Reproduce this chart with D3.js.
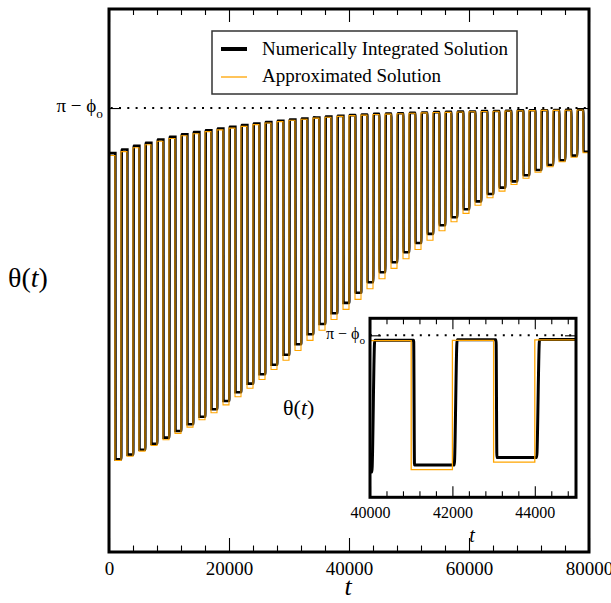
<!DOCTYPE html>
<html>
<head>
<meta charset="utf-8">
<script src="https://cdn.jsdelivr.net/npm/d3@7"></script>
<style>
  html, body { margin: 0; padding: 0; background: #fff; }
  svg { display: block; }
</style>
</head>
<body>
<svg id="chart" width="611" height="603"></svg>
<script>
// ---- data -------------------------------------------------------------
// Square-wave response: each cycle of PERIOD has a "high" half then a "low" half.
const PERIOD = 2000;
const T_END = 80000;
const PHI0 = 0.607;
const THETA_TOP = Math.PI - PHI0;   // the pi - phi_o level

// plateau levels per cycle (40 cycles), numerically integrated solution
const numericHigh = [2.277, 2.298, 2.319, 2.336, 2.355, 2.370, 2.385, 2.397, 2.408, 2.418,
                     2.427, 2.437, 2.446, 2.454, 2.462, 2.469, 2.475, 2.481, 2.486, 2.490,
                     2.494, 2.498, 2.501, 2.503, 2.505, 2.507, 2.509, 2.511, 2.513, 2.514,
                     2.515, 2.517, 2.518, 2.519, 2.521, 2.522, 2.522, 2.523, 2.524, 2.525];
const numericLow  = [0.529, 0.556, 0.584, 0.618, 0.653, 0.691, 0.729, 0.772, 0.815, 0.862,
                     0.912, 0.961, 1.015, 1.069, 1.126, 1.186, 1.243, 1.302, 1.363, 1.422,
                     1.480, 1.540, 1.597, 1.654, 1.711, 1.764, 1.816, 1.865, 1.911, 1.957,
                     2.002, 2.044, 2.080, 2.116, 2.151, 2.181, 2.209, 2.236, 2.263, 2.285];
// plateau levels per cycle, approximated solution
const approxHigh  = [2.264, 2.286, 2.308, 2.325, 2.345, 2.361, 2.376, 2.388, 2.400, 2.410,
                     2.420, 2.430, 2.440, 2.449, 2.457, 2.465, 2.471, 2.477, 2.482, 2.487,
                     2.491, 2.494, 2.498, 2.500, 2.502, 2.505, 2.507, 2.509, 2.510, 2.512,
                     2.513, 2.515, 2.516, 2.518, 2.519, 2.520, 2.521, 2.521, 2.522, 2.523];
const approxLow   = [0.522, 0.547, 0.576, 0.608, 0.641, 0.677, 0.713, 0.755, 0.795, 0.840,
                     0.886, 0.935, 0.985, 1.042, 1.095, 1.150, 1.208, 1.266, 1.327, 1.385,
                     1.442, 1.503, 1.560, 1.619, 1.674, 1.727, 1.780, 1.834, 1.885, 1.933,
                     1.980, 2.022, 2.060, 2.098, 2.134, 2.168, 2.199, 2.228, 2.254, 2.279];

// the numerical solution switches a little later than the approximation, and not instantly
const FALL_LAG = 60, FALL_RAMP = 20, RISE_LAG = 45, RISE_RAMP = 70;

const mainTicksMajor = [0, 20000, 40000, 60000, 80000];
const insetTicksMajor = [40000, 42000, 44000];
const INSET_RANGE = [40000, 45000];

const SERIF = '"Liberation Serif", "Times New Roman", Times, serif';
const ORANGE = "#ffa500";

// ---- series as point lists ---------------------------------------------
function approxPoints() {
  const pts = [];
  approxHigh.forEach((h, k) => {
    pts.push([k * PERIOD, h]);
    pts.push([k * PERIOD + PERIOD / 2, approxLow[k]]);
  });
  pts.push([T_END, approxLow[approxLow.length - 1]]);
  return pts;
}
function numericPoints() {
  const pts = [[0, numericHigh[0]]];
  numericHigh.forEach((h, k) => {
    const tf = k * PERIOD + PERIOD / 2 + FALL_LAG;
    pts.push([tf, h], [tf + FALL_RAMP, numericLow[k]]);
    if (k + 1 < numericHigh.length) {
      const tr = (k + 1) * PERIOD + RISE_LAG;
      pts.push([tr, numericLow[k]], [tr + RISE_RAMP, numericHigh[k + 1]]);
    }
  });
  pts.push([T_END, numericLow[numericLow.length - 1]]);
  return pts;
}
const approxData = approxPoints();
const numericData = numericPoints();

// ---- main panel --------------------------------------------------------
const svg = d3.select("#chart");
const M = { left: 109, right: 589, top: 9, bottom: 552 };
const x = d3.scaleLinear().domain([0, T_END]).range([M.left, M.right]);
const y = d3.scaleLinear().domain([0, 3.1]).range([M.bottom, M.top]);

const defs = svg.append("defs");
defs.append("clipPath").attr("id", "clipMain").append("rect")
  .attr("x", M.left).attr("y", M.top).attr("width", M.right - M.left).attr("height", M.bottom - M.top);

const mainG = svg.append("g").attr("clip-path", "url(#clipMain)");

// pi - phi_o reference level
mainG.append("line")
  .attr("x1", M.left).attr("x2", M.right)
  .attr("y1", y(THETA_TOP)).attr("y2", y(THETA_TOP))
  .attr("stroke", "#000").attr("stroke-width", 2)
  .attr("stroke-dasharray", "2 6.3").attr("stroke-dashoffset", -1.7);

const lineNum = d3.line().x(d => x(d[0])).y(d => y(d[1])).curve(d3.curveMonotoneX);
const lineApp = d3.line().x(d => x(d[0])).y(d => y(d[1])).curve(d3.curveStepAfter);

mainG.append("path").attr("d", lineNum(numericData))
  .attr("fill", "none").attr("stroke", "#000").attr("stroke-width", 2.6);
mainG.append("path").attr("d", lineApp(approxData))
  .attr("fill", "none").attr("stroke", ORANGE).attr("stroke-width", 1.1);

// axes with inward ticks
function styleAxis(g, size) {
  g.select(".domain").remove();
  g.attr("font-family", SERIF).attr("font-size", size);
  g.selectAll("text").attr("fill", "#000");
  g.selectAll("line").attr("stroke", "#000").attr("stroke-width", 1.1);
}
const mainMinor = d3.range(0, T_END + 1, 4000).filter(v => v % 20000 !== 0);

svg.append("g").attr("transform", `translate(0,${M.bottom})`)
  .call(d3.axisBottom(x).tickValues(mainTicksMajor).tickSize(-14).tickPadding(9.5).tickFormat(d3.format("d")))
  .call(g => styleAxis(g, 19));
svg.append("g").attr("transform", `translate(0,${M.bottom})`)
  .call(d3.axisBottom(x).tickValues(mainMinor).tickSize(-6.5).tickFormat(""))
  .call(g => styleAxis(g, 19));
svg.append("g").attr("transform", `translate(0,${M.top})`)
  .call(d3.axisTop(x).tickValues(mainTicksMajor).tickSize(-13).tickFormat(""))
  .call(g => styleAxis(g, 19));
svg.append("g").attr("transform", `translate(0,${M.top})`)
  .call(d3.axisTop(x).tickValues(mainMinor).tickSize(-6).tickFormat(""))
  .call(g => styleAxis(g, 19));
svg.append("g").attr("transform", `translate(${M.left},0)`)
  .call(d3.axisLeft(y).tickValues([THETA_TOP]).tickSize(-12).tickFormat(""))
  .call(g => styleAxis(g, 19));
svg.append("g").attr("transform", `translate(${M.right},0)`)
  .call(d3.axisRight(y).tickValues([THETA_TOP]).tickSize(-12).tickFormat(""))
  .call(g => styleAxis(g, 19));

// frame
svg.append("rect")
  .attr("x", M.left).attr("y", M.top).attr("width", M.right - M.left).attr("height", M.bottom - M.top)
  .attr("fill", "none").attr("stroke", "#000").attr("stroke-width", 3);

// pi - phi_o label
function piPhiLabel(xEnd, yBase, size) {
  const t = svg.append("text")
    .attr("x", xEnd).attr("y", yBase).attr("text-anchor", "end")
    .attr("font-family", SERIF).attr("font-size", size).attr("fill", "#000");
  t.append("tspan").text("\u03C0 \u2212 \u03D5");
  t.append("tspan").attr("font-size", size * 0.7).attr("dy", size * 0.3).text("o");
}
piPhiLabel(103, 112, 19);

// axis titles
function thetaLabel(xs, yBase, size) {
  const t = svg.append("text")
    .attr("x", xs).attr("y", yBase)
    .attr("font-family", SERIF).attr("font-size", size).attr("fill", "#000");
  t.append("tspan").text("\u03B8(");
  t.append("tspan").attr("font-style", "italic").text("t");
  t.append("tspan").text(")");
}
thetaLabel(8, 287, 28);
svg.append("text").attr("x", 348).attr("y", 595).attr("text-anchor", "middle")
  .attr("font-family", SERIF).attr("font-size", 26).attr("font-style", "italic").text("t");

// ---- legend -------------------------------------------------------------
const leg = svg.append("g");
leg.append("rect").attr("x", 212).attr("y", 31).attr("width", 305).attr("height", 63)
  .attr("fill", "#fff").attr("stroke", "#333").attr("stroke-width", 1.5);
const legendItems = [
  { label: "Numerically Integrated Solution", color: "#000", width: 4, yy: 49, base: 54.5 },
  { label: "Approximated Solution", color: ORANGE, width: 1.3, yy: 77, base: 82 }
];
legendItems.forEach(it => {
  leg.append("line").attr("x1", 221).attr("x2", 247).attr("y1", it.yy).attr("y2", it.yy)
    .attr("stroke", it.color).attr("stroke-width", it.width);
  leg.append("text").attr("x", 262).attr("y", it.base)
    .attr("font-family", SERIF).attr("font-size", 19).attr("fill", "#000").text(it.label);
});

// ---- inset: zoom on a few cycles ------------------------------------------
const I = { left: 370, right: 576, top: 318.3, bottom: 497.3 };
const xi = d3.scaleLinear().domain(INSET_RANGE).range([I.left, I.right]);
const yi = d3.scaleLinear().domain([1.217, 2.673]).range([I.bottom, I.top]);

svg.append("rect").attr("x", I.left).attr("y", I.top)
  .attr("width", I.right - I.left).attr("height", I.bottom - I.top).attr("fill", "#fff");

defs.append("clipPath").attr("id", "clipInset").append("rect")
  .attr("x", I.left).attr("y", I.top).attr("width", I.right - I.left).attr("height", I.bottom - I.top);
const insetG = svg.append("g").attr("clip-path", "url(#clipInset)");

insetG.append("line")
  .attr("x1", I.left).attr("x2", I.right)
  .attr("y1", yi(THETA_TOP)).attr("y2", yi(THETA_TOP))
  .attr("stroke", "#000").attr("stroke-width", 2)
  .attr("stroke-dasharray", "2 6.3");

const inNum = d3.line().x(d => xi(d[0])).y(d => yi(d[1])).curve(d3.curveMonotoneX);
const inApp = d3.line().x(d => xi(d[0])).y(d => yi(d[1])).curve(d3.curveStepAfter);
const inWindow = d => d[0] >= INSET_RANGE[0] - PERIOD && d[0] <= INSET_RANGE[1] + PERIOD;
insetG.append("path").attr("d", inNum(numericData.filter(inWindow)))
  .attr("fill", "none").attr("stroke", "#000").attr("stroke-width", 3);
insetG.append("path").attr("d", inApp(approxData.filter(inWindow)))
  .attr("fill", "none").attr("stroke", ORANGE).attr("stroke-width", 1.3);

const insetMinor = d3.range(INSET_RANGE[0], INSET_RANGE[1] + 1, 400).filter(v => !insetTicksMajor.includes(v));
svg.append("g").attr("transform", `translate(0,${I.bottom})`)
  .call(d3.axisBottom(xi).tickValues(insetTicksMajor).tickSize(-11).tickPadding(9.3).tickFormat(d3.format("d")))
  .call(g => styleAxis(g, 16));
svg.append("g").attr("transform", `translate(0,${I.bottom})`)
  .call(d3.axisBottom(xi).tickValues(insetMinor).tickSize(-6).tickFormat(""))
  .call(g => styleAxis(g, 16));
svg.append("g").attr("transform", `translate(0,${I.top})`)
  .call(d3.axisTop(xi).tickValues(insetTicksMajor).tickSize(-11).tickFormat(""))
  .call(g => styleAxis(g, 16));
svg.append("g").attr("transform", `translate(0,${I.top})`)
  .call(d3.axisTop(xi).tickValues(insetMinor).tickSize(-6).tickFormat(""))
  .call(g => styleAxis(g, 16));
svg.append("g").attr("transform", `translate(${I.left},0)`)
  .call(d3.axisLeft(yi).tickValues([THETA_TOP]).tickSize(-11).tickFormat(""))
  .call(g => styleAxis(g, 16));
svg.append("g").attr("transform", `translate(${I.right},0)`)
  .call(d3.axisRight(yi).tickValues([THETA_TOP]).tickSize(-11).tickFormat(""))
  .call(g => styleAxis(g, 16));

svg.append("rect").attr("x", I.left).attr("y", I.top)
  .attr("width", I.right - I.left).attr("height", I.bottom - I.top)
  .attr("fill", "none").attr("stroke", "#000").attr("stroke-width", 3);

piPhiLabel(365, 339, 16);
thetaLabel(283, 415, 22);
svg.append("text").attr("x", 472).attr("y", 542).attr("text-anchor", "middle")
  .attr("font-family", SERIF).attr("font-size", 20).attr("font-style", "italic").text("t");
</script>
</body>
</html>
